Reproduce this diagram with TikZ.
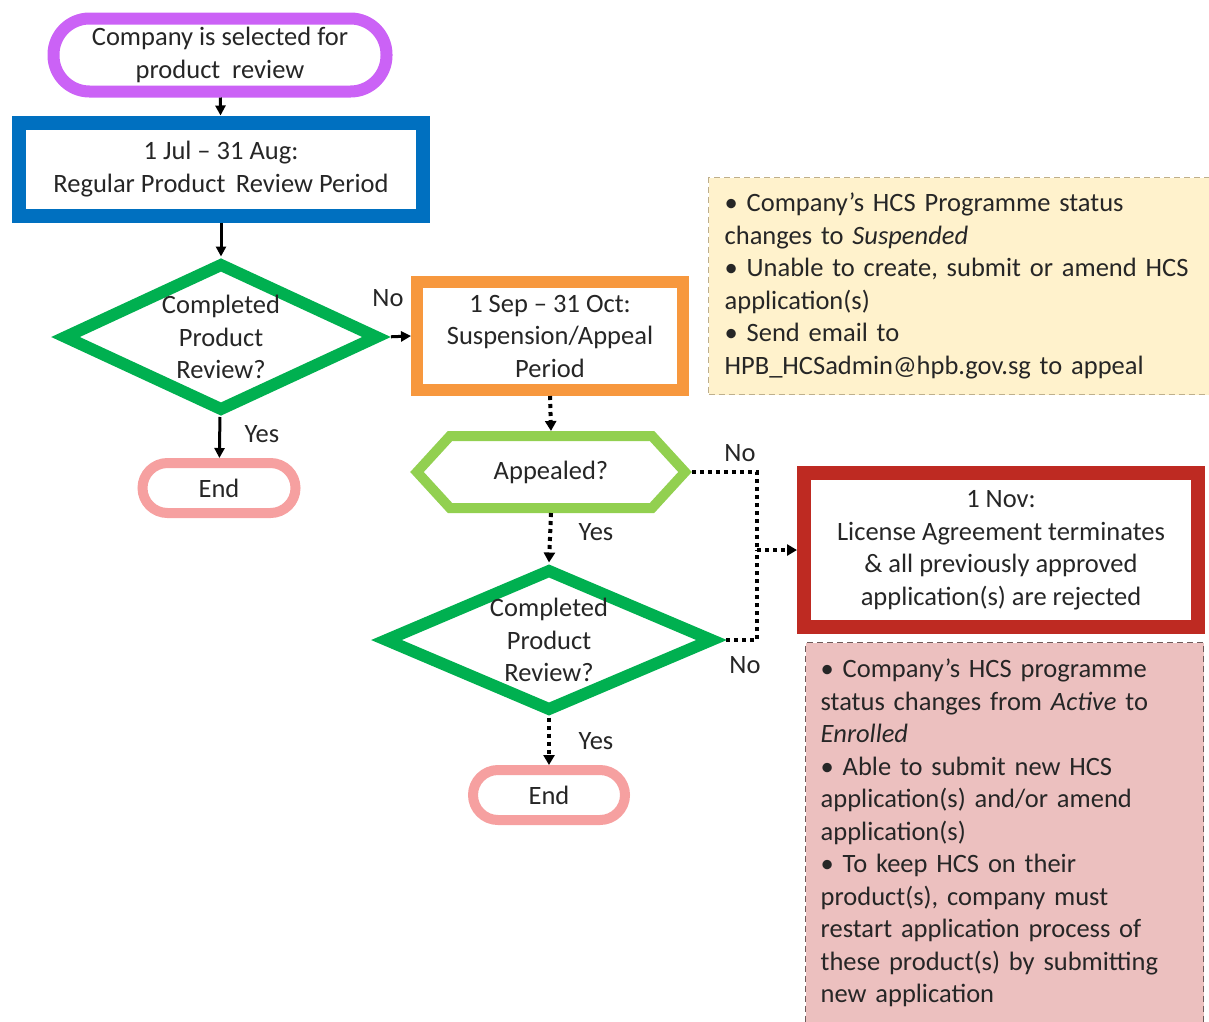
\documentclass[tikz,border=0pt]{standalone}
\usepackage{fontspec}
\setmainfont{Carlito}
\usetikzlibrary{arrows.meta,shapes.geometric,shapes.symbols}
\definecolor{cpurple}{RGB}{203,98,246}
\definecolor{cblue}{RGB}{0,112,192}
\definecolor{cgreen}{RGB}{0,176,80}
\definecolor{clgreen}{RGB}{146,208,80}
\definecolor{cpink}{RGB}{246,160,160}
\definecolor{corange}{RGB}{247,152,62}
\definecolor{cred}{RGB}{190,42,34}
\definecolor{cyfill}{RGB}{255,242,204}
\definecolor{cyline}{RGB}{190,175,140}
\definecolor{crfill}{RGB}{236,192,191}
\definecolor{crline}{RGB}{110,90,90}
\definecolor{textc}{RGB}{38,38,38}
\tikzset{
  base/.style={font=\fontsize{26.5}{32.5}\selectfont, text=textc, align=center, inner sep=0pt, fill=white},
  term/.style={base, rectangle, rounded corners=#1},
  procbox/.style={base, rectangle},
  decide/.style={base, diamond, shape aspect=2.15, draw=cgreen, line width=12pt, miter limit=20},
  hexa/.style={base, signal, signal to=west and east, signal pointer angle=95, draw=clgreen, line width=10pt},
  note/.style={base, rectangle, align=left, dashed, dash pattern=on 6pt off 4pt, line width=1.3pt},
  lbl/.style={font=\fontsize{26.5}{30}\selectfont, text=textc, inner sep=0pt},
  arr/.style={line width=3pt, black, -{Triangle[length=10pt,width=10pt]}},
  dotarr/.style={line width=4pt, black, dash pattern=on 4pt off 4pt, -{Triangle[length=10pt,width=11pt]}},
  dotline/.style={line width=4pt, black, dash pattern=on 4pt off 4pt}
}
\begin{document}
\begin{tikzpicture}[x=1pt,y=-1pt]
\useasboundingbox (0,0) rectangle (1209,1021);
\clip (0,0) rectangle (1209,1021);

% notes
\node[note, draw=cyline, fill=cyfill, anchor=north west, minimum width=500pt, minimum height=217pt, text width=470pt, inner xsep=16pt] (note1) at (708,177)
 {• Company’s HCS Programme status\\changes to \textit{Suspended}\\• Unable to create, submit or amend HCS\\application(s)\\• Send email to\\HPB\_HCSadmin@hpb.gov.sg to appeal};
\node[note, draw=crline, fill=crfill, anchor=north west, minimum width=395pt, minimum height=381pt, text width=368pt, inner xsep=15pt] (note2) at (805,642)
 {• Company’s HCS programme\\status changes from \textit{Active} to\\\textit{Enrolled}\\• Able to submit new HCS\\application(s) and/or amend\\application(s)\\• To keep HCS on their\\product(s), company must\\restart application process of\\these product(s) by submitting\\new application};

% main nodes
\node[term=36pt, draw=cpurple, line width=12pt, minimum width=333pt, minimum height=73pt] (start) at (220,55)
 {Company is selected for\\product\hspace{0.45em}review};
\node[procbox, draw=cblue, line width=14pt, minimum width=404pt, minimum height=93pt] (box1) at (221,169)
 {1 Jul – 31 Aug:\\Regular Product\hspace{0.4em}Review Period};
\node[decide, minimum width=316pt, minimum height=149pt] (d1) at (221,337)
 {Completed\\Product\\Review?};
\node[term=25pt, draw=cpink, line width=10pt, minimum width=153pt, minimum height=50pt] (end1) at (219,488) {End};
\node[procbox, draw=corange, line width=12pt, minimum width=266pt, minimum height=108pt] (box2) at (550,336)
 {1 Sep – 31 Oct:\\Suspension/Appeal\\Period};
\node[hexa, minimum width=268pt, minimum height=72pt] (app) at (551,472) {Appealed?};
\node[decide, minimum width=330pt, minimum height=143pt] (d2) at (549,640)
 {Completed\\Product\\Review?};
\node[term=25pt, draw=cpink, line width=10pt, minimum width=152pt, minimum height=50pt] (end2) at (549,795) {End};
\node[procbox, draw=cred, line width=14pt, minimum width=394pt, minimum height=154pt] (box3) at (1001,550)
 {1 Nov:\\License Agreement terminates\\\& all previously approved\\application(s) are rejected};

% connectors
\draw[arr] (start) -- (box1);
\draw[arr] (box1) -- (d1);
\draw[arr] (d1) -- (end1);
\draw[arr, shorten <=6pt] (d1.east) -- (box2.west);
\draw[dotarr] (box2.south) -- (app.north);
\draw[dotarr] (app.south) -- (d2.north);
\draw[dotarr] (d2.south) -- (end2.north);
\coordinate (jx) at (757,550);
\draw[dotline] (app.east) -| (jx);
\draw[dotline, shorten <=6pt] (d2.east) -| (jx);
\draw[dotarr] (jx) -- (box3.west);

% labels
\node[lbl] (lno1) at (388,298) {No};
\node[lbl] (lyes1) at (262,434) {Yes};
\node[lbl] (lyes2) at (596,532) {Yes};
\node[lbl] (lyes3) at (596,741) {Yes};
\node[lbl] (lno2) at (740,453) {No};
\node[lbl] (lno3) at (745,665) {No};
\end{tikzpicture}
\end{document}
